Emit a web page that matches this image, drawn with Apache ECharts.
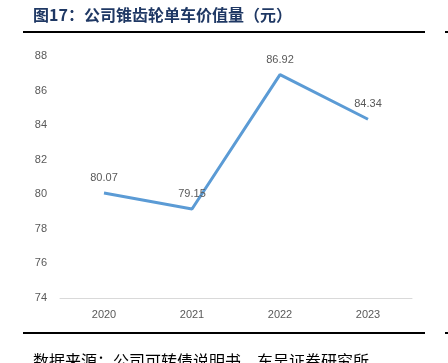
<!DOCTYPE html>
<html><head><meta charset="utf-8">
<script src="https://cdn.jsdelivr.net/npm/echarts@6/dist/echarts.min.js"></script>
<style>html,body{margin:0;padding:0;background:#fff}#c{width:448px;height:363px}</style>
</head><body><div id="c"></div>
<script>
const categories = ['2020', '2021', '2022', '2023'];
const values = [80.07, 79.15, 86.92, 84.34];
const titleText = '图17：公司锥齿轮单车价值量（元）';
const sourceText = '数据来源：公司可转债说明书，东吴证券研究所';

const chart = echarts.init(document.getElementById('c'), null, {renderer: 'canvas'});
chart.setOption({
  backgroundColor: '#fff',
  animation: false,
  grid: {left: 60, right: 36, top: 56, bottom: 65},
  xAxis: {
    type: 'category', data: categories, boundaryGap: true,
    axisLine: {lineStyle: {color: '#d9d9d9', width: 1}},
    axisTick: {show: false},
    axisLabel: {color: '#595959', fontSize: 11, margin: 11, fontFamily: 'Liberation Sans'}
  },
  yAxis: {
    type: 'value', min: 74, max: 88, interval: 2,
    axisLine: {show: false}, axisTick: {show: false}, splitLine: {show: false},
    axisLabel: {color: '#595959', fontSize: 11, margin: 13, fontFamily: 'Liberation Sans'}
  },
  series: [{
    type: 'line', data: values, showSymbol: true, symbol: 'circle', symbolSize: 1,
    itemStyle: {color: 'rgba(0,0,0,0)'},
    lineStyle: {color: '#5b9bd5', width: 3},
    label: {show: true, position: 'top', distance: 9, color: '#595959', fontSize: 11, fontFamily: 'Liberation Sans'}
  }],
  graphic: [
    {type: 'text', left: 33, top: 7, style: {text: titleText, fill: '#1f3864', font: 'bold 16px "Noto Sans CJK SC"'}},
    {type: 'rect', shape: {x: 23, y: 31, width: 402, height: 2}, style: {fill: '#000'}},
    {type: 'rect', shape: {x: 445, y: 31, width: 3, height: 2}, style: {fill: '#000'}},
    {type: 'rect', shape: {x: 23, y: 332, width: 402, height: 2}, style: {fill: '#000'}},
    {type: 'rect', shape: {x: 445, y: 332, width: 3, height: 2}, style: {fill: '#000'}},
    {type: 'text', left: 33, top: 353, style: {text: sourceText, fill: '#000', font: '16px "Noto Sans CJK SC"'}}
  ]
});
</script></body></html>
